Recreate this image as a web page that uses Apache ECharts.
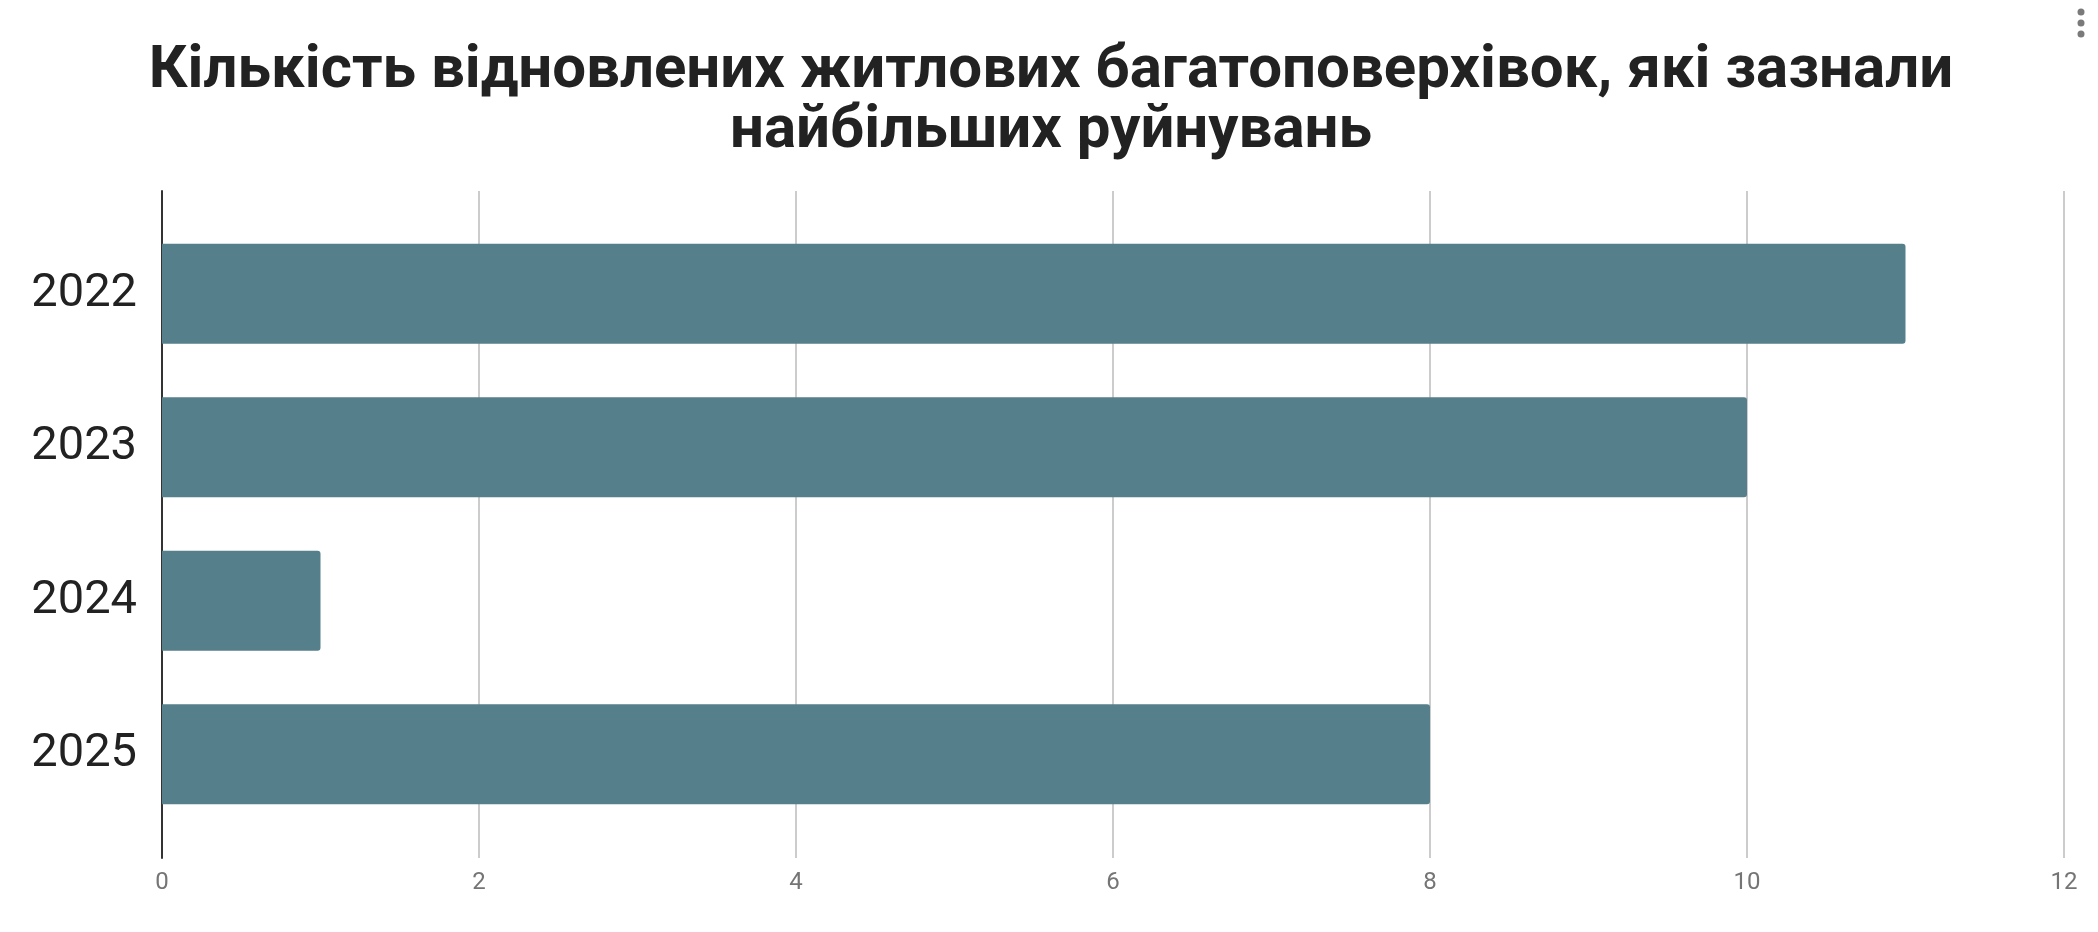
<!DOCTYPE html>
<html>
<head>
<meta charset="utf-8">
<script src="https://cdn.jsdelivr.net/npm/echarts@6/dist/echarts.min.js"></script>
<style>
html,body{margin:0;padding:0;background:#fff;}
#chart{width:2098px;height:932px;}
</style>
</head>
<body>
<div id="chart"></div>
<script>
const titleText = 'Кількість відновлених житлових багатоповерхівок, які зазнали\nнайбільших руйнувань';
const categories = ['2022', '2023', '2024', '2025'];
const values = [11, 10, 1, 8];
const xTicks = { min: 0, max: 12, interval: 2 };

const chart = echarts.init(document.getElementById('chart'));
chart.setOption({
  backgroundColor: '#ffffff',
  animation: false,
  title: {
    text: titleText,
    left: 1046,
    top: 37,
    textAlign: 'center',
    textStyle: {
      fontFamily: 'Roboto',
      fontWeight: 'bold',
      fontSize: 60,
      lineHeight: 60,
      color: '#222222'
    }
  },
  graphic: [
    { type: 'circle', shape: { cx: 2081, cy: 12, r: 3.5 }, style: { fill: '#7a7a7a' } },
    { type: 'circle', shape: { cx: 2081, cy: 23, r: 3.5 }, style: { fill: '#7a7a7a' } },
    { type: 'circle', shape: { cx: 2081, cy: 34, r: 3.5 }, style: { fill: '#7a7a7a' } }
  ],
  grid: [
    { left: 162, right: 34, top: 191, bottom: 74 },
    { left: 162, right: 34, top: 217, bottom: 101 }
  ],
  xAxis: [
    {
      gridIndex: 0, type: 'value', min: xTicks.min, max: xTicks.max, interval: xTicks.interval,
      axisLine: { show: false }, axisTick: { show: false },
      splitLine: { show: true, lineStyle: { color: '#cccccc', width: 2 } },
      axisLabel: { fontFamily: 'Roboto', fontSize: 24, color: '#757575', margin: 13 }
    },
    {
      gridIndex: 1, type: 'value', min: xTicks.min, max: xTicks.max, interval: xTicks.interval,
      show: false
    }
  ],
  yAxis: [
    {
      gridIndex: 0, type: 'value', min: 0, max: 1,
      axisLine: { show: true, lineStyle: { color: '#333333', width: 2 } },
      axisTick: { show: false }, axisLabel: { show: false }, splitLine: { show: false }
    },
    {
      gridIndex: 1, type: 'category', data: categories, inverse: true,
      axisLine: { show: false }, axisTick: { show: false },
      axisLabel: { fontFamily: 'Roboto', fontSize: 47, color: '#222222', margin: 25 }
    }
  ],
  series: [
    {
      type: 'bar',
      xAxisIndex: 1, yAxisIndex: 1,
      data: values,
      barWidth: 100,
      itemStyle: { color: '#557f8b', borderRadius: [0, 3, 3, 0] },
      z: 3
    }
  ]
});
</script>
</body>
</html>
